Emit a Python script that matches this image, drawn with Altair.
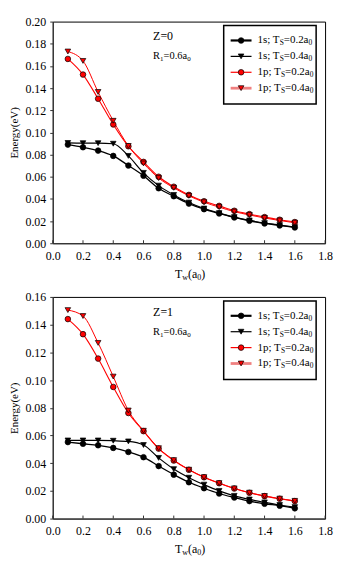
import altair as alt
import pandas as pd

# ---------------- data ----------------
tw = [0.1, 0.2, 0.3, 0.4, 0.5, 0.6, 0.7, 0.8, 0.9, 1.0, 1.1, 1.2, 1.3, 1.4, 1.5, 1.6]

z0_1s_ts02 = [0.0890, 0.0866, 0.0836, 0.0788, 0.0701, 0.0609, 0.0496, 0.0424, 0.0358, 0.0307, 0.0269, 0.0233, 0.0203, 0.0179, 0.0161, 0.0143]
z0_1s_ts04 = [0.0905, 0.0903, 0.0903, 0.0898, 0.0788, 0.0635, 0.0520, 0.0436, 0.0367, 0.0313, 0.0272, 0.0236, 0.0206, 0.0182, 0.0164, 0.0146]
z0_1p_ts02 = [0.1663, 0.1522, 0.1304, 0.1072, 0.0875, 0.0734, 0.0600, 0.0510, 0.0436, 0.0379, 0.0337, 0.0293, 0.0263, 0.0236, 0.0212, 0.0191]
z0_1p_ts04 = [0.1730, 0.1645, 0.1365, 0.1105, 0.0878, 0.0720, 0.0588, 0.0500, 0.0428, 0.0370, 0.0326, 0.0285, 0.0255, 0.0228, 0.0205, 0.0185]

z1_1s_ts02 = [0.0552, 0.0540, 0.0529, 0.0510, 0.0481, 0.0443, 0.0379, 0.0317, 0.0262, 0.0219, 0.0181, 0.0152, 0.0126, 0.0107, 0.0093, 0.0074]
z1_1s_ts04 = [0.0564, 0.0564, 0.0564, 0.0562, 0.0557, 0.0531, 0.0438, 0.0357, 0.0295, 0.0245, 0.0200, 0.0164, 0.0138, 0.0117, 0.0098, 0.0083]
z1_1p_ts02 = [0.1440, 0.1331, 0.1155, 0.0950, 0.0762, 0.0631, 0.0505, 0.0419, 0.0352, 0.0298, 0.0255, 0.0217, 0.0186, 0.0162, 0.0143, 0.0126]
z1_1p_ts04 = [0.1505, 0.1462, 0.1268, 0.1025, 0.0780, 0.0634, 0.0508, 0.0422, 0.0353, 0.0299, 0.0256, 0.0218, 0.0187, 0.0163, 0.0144, 0.0128]

series_keys = ["1s_0.2", "1s_0.4", "1p_0.2", "1p_0.4"]
states = ["1s", "1s", "1p", "1p"]
ts_labels = ["0.2", "0.4", "0.2", "0.4"]
z_labels = ["Z=0", "Z=1"]
r1_label = "0.6"
x_ticks = [0.0, 0.2, 0.4, 0.6, 0.8, 1.0, 1.2, 1.4, 1.6, 1.8]
y_ticks_z0 = [0.00, 0.02, 0.04, 0.06, 0.08, 0.10, 0.12, 0.14, 0.16, 0.18, 0.20]
y_ticks_z1 = [0.00, 0.02, 0.04, 0.06, 0.08, 0.10, 0.12, 0.14, 0.16]

# ---------------- style ----------------
FONT = "Liberation Serif"
W, H = 274, 223
line_colors = ["#000000", "#000000", "#ff0000", "#ff0000"]
line_widths = [1.3, 1.0, 1.0, 1.3]
shapes = ["circle", "triangle-down", "circle", "triangle-down"]
fills = ["#000000", "#000000", "#ff0000", "#ff0000"]
legend_line_colors = ["#000000", "#000000", "#ff0000", "#f08080"]
legend_line_widths = [2.2, 1.2, 1.2, 2.8]

# Times/Liberation Serif advance widths (1/1000 em)
ADV = {c: 500 for c in "0123456789"}
ADV.update({".": 250, " ": 250, ";": 278, "=": 564, "(": 333, ")": 333,
            "T": 611, "S": 556, "R": 667, "Z": 611, "a": 444, "s": 389,
            "p": 500, "w": 722})


def text_runs(x0, y0, parts, fs, fsub, dsub):
    rows, x = [], x0
    for txt, sub in parts:
        size = fsub if sub else fs
        rows.append({"x": x, "y": y0 + (dsub if sub else 0), "text": txt, "size": size})
        x += sum(ADV.get(c, 500) for c in txt) * size / 1000.0
    return rows


def panel(z_label, lists, ymax, yticks):
    rows = []
    for key, vals in zip(series_keys, lists):
        for t, e in zip(tw, vals):
            rows.append({"tw": t, "e": e, "s": key})
    df = pd.DataFrame(rows)

    x_scale = alt.Scale(domain=[0, 1.8], nice=False, zero=False)
    x_axis = alt.Axis(values=x_ticks, format=".1f", ticks=False, tickSize=0,
                      labelPadding=7, labelOverlap=False, labelFlush=False,
                      labelExpr="format(datum.value, '.1f')",
                      title=None, grid=False)
    xs = alt.X("tw:Q", scale=x_scale, axis=x_axis)
    ys = alt.Y("e:Q", scale=alt.Scale(domain=[0, ymax], nice=False),
               axis=alt.Axis(values=yticks, format=".2f", tickSize=3, labelPadding=4,
                             labelOverlap=False, labelFlush=False,
                             title="Energy(eV)", titlePadding=5, grid=False))
    col = alt.Color("s:N", scale=alt.Scale(domain=series_keys, range=line_colors), legend=None)
    sw = alt.StrokeWidth("s:N", scale=alt.Scale(domain=series_keys, range=line_widths), legend=None)
    shp = alt.Shape("s:N", scale=alt.Scale(domain=series_keys, range=shapes), legend=None)
    fil = alt.Fill("s:N", scale=alt.Scale(domain=series_keys, range=fills), legend=None)

    lines = alt.Chart(df).mark_line(interpolate="monotone").encode(
        x=xs, y=ys, color=col, strokeWidth=sw, detail="s:N")
    pts = alt.Chart(df).mark_point(filled=True, size=32, strokeWidth=0.7, opacity=1).encode(
        x=xs, y=ys, shape=shp, fill=fil, stroke=alt.value("#000000"))

    tick_df = pd.DataFrame({"tw": x_ticks})
    xt = alt.Chart(tick_df).mark_rule(color="#333333", strokeWidth=1).encode(
        x=xs, y=alt.value(H), y2=alt.value(H - 3))

    # legend box
    box = alt.Chart(pd.DataFrame({"a": [0]})).mark_rect(
        fill="white", stroke="#000000", strokeWidth=1.5).encode(
        x=alt.value(172), x2=alt.value(265), y=alt.value(4), y2=alt.value(83))

    layers = [lines, pts, xt, box]
    leg_rows = []
    text_rows = []
    for i, key in enumerate(series_keys):
        ly = 19 + 16 * i
        layers.append(alt.Chart(pd.DataFrame({"a": [0]})).mark_rule(
            color=legend_line_colors[i], strokeWidth=legend_line_widths[i]).encode(
            x=alt.value(179), x2=alt.value(200), y=alt.value(ly)))
        leg_rows.append({"px": 189.5, "py": ly, "s": key})
        text_rows += text_runs(206, ly, [(states[i] + "; T", False), ("S", True),
                                         ("=" + ts_labels[i] + "a", False), ("0", True)],
                               11, 7.5, 3)
    leg_pts = alt.Chart(pd.DataFrame(leg_rows)).mark_point(
        filled=True, size=32, strokeWidth=0.7, opacity=1).encode(
        x=alt.X("px:Q", scale=None), y=alt.Y("py:Q", scale=None),
        shape=shp, fill=fil, stroke=alt.value("#000000"))
    layers.append(leg_pts)

    # annotations
    text_rows += text_runs(101, 15, [(z_label, False)], 12, 8, 3)
    text_rows += text_runs(101, 35, [("R", False), ("1", True), ("=" + r1_label + "a", False), ("0", True)],
                           10.5, 7, 3)
    # x-axis title T_w(a_0)
    text_rows += text_runs(123, 254, [("T", False), ("w", True), ("(a", False), ("0", True), (")", False)],
                           12, 8, 3.5)
    txt = alt.Chart(pd.DataFrame(text_rows)).mark_text(
        align="left", baseline="middle", font=FONT, color="#000000").encode(
        x=alt.X("x:Q", scale=None), y=alt.Y("y:Q", scale=None),
        text="text:N", size=alt.Size("size:Q", scale=None))
    layers.append(txt)

    return alt.layer(*layers).properties(width=W, height=H)


top = panel(z_labels[0], [z0_1s_ts02, z0_1s_ts04, z0_1p_ts02, z0_1p_ts04], 0.20, y_ticks_z0)
bottom = panel(z_labels[1], [z1_1s_ts02, z1_1s_ts04, z1_1p_ts02, z1_1p_ts04], 0.16, y_ticks_z1)

chart = alt.vconcat(top, bottom, spacing=8, padding={"left": 0, "top": 5, "right": 5, "bottom": 0}).configure(
    font=FONT
).configure_view(
    stroke="#000000", strokeWidth=1
).configure_text(font=FONT).configure_axis(
    labelFont=FONT, titleFont=FONT, labelFontSize=12, titleFontSize=11,
    titleFontWeight="normal", labelColor="#000000", titleColor="#000000",
    domainColor="#333333", tickColor="#333333"
)

chart.save("out.html", embed_options={"renderer": "svg", "actions": False})
